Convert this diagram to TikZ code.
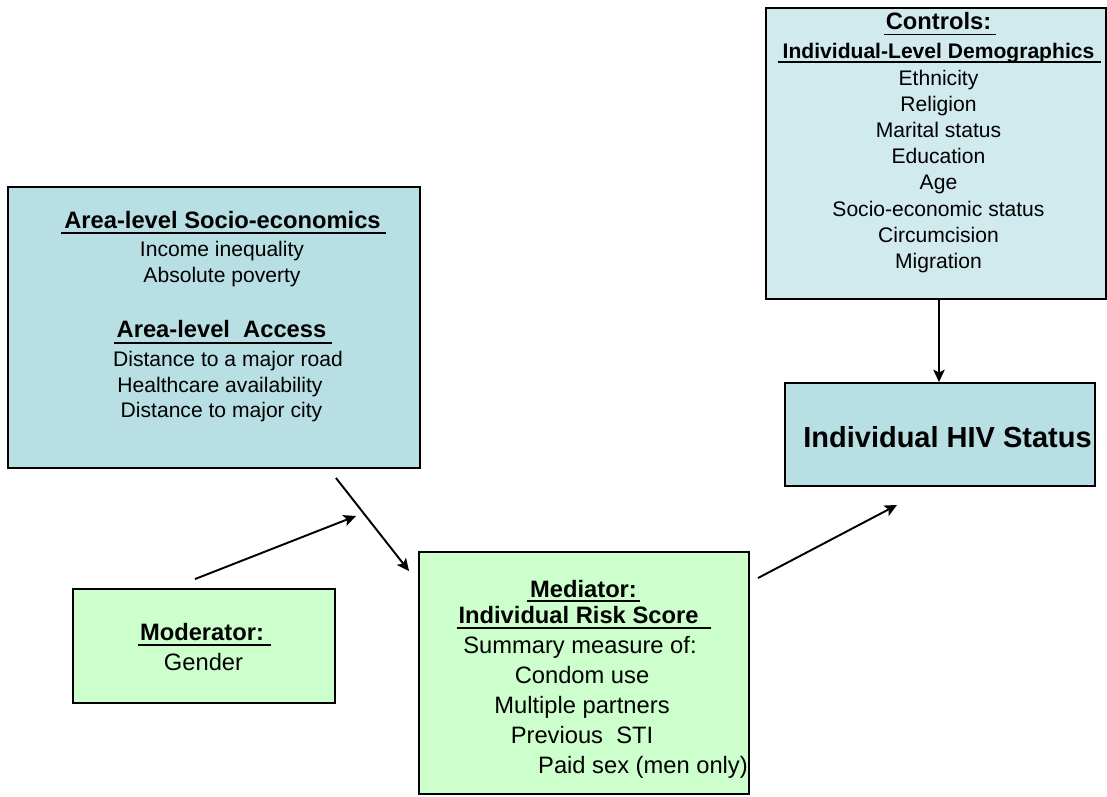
\documentclass[tikz,border=0pt]{standalone}
\usepackage{fontspec}
\setmainfont{Liberation Sans}
\usetikzlibrary{arrows.meta}

\definecolor{areablue}{RGB}{184,223,227}
\definecolor{ctrlblue}{RGB}{209,234,238}
\definecolor{medgreen}{RGB}{204,255,204}

\begin{document}
\begin{tikzpicture}[
  x=0.02cm, y=-0.02cm,
  box/.style={draw=black, line width=1.1pt, inner sep=0pt},
  head/.style={font=\fontsize{13.5}{16}\selectfont\bfseries, anchor=base, inner sep=0pt},
  subhead/.style={font=\fontsize{12}{14}\selectfont\bfseries, anchor=base, inner sep=0pt},
  item/.style={font=\fontsize{12}{14}\selectfont, anchor=base, inner sep=0pt},
  bigitem/.style={font=\fontsize{13.5}{16}\selectfont, anchor=base, inner sep=0pt},
  uline/.style={line width=1.1pt},
  arrow/.style={-{Stealth[length=7pt, width=6.5pt, inset=1.5pt]}, line width=1.1pt},
]
\useasboundingbox (0,0) rectangle (1107,796);

% Boxes
\node[box, fill=ctrlblue, minimum width=6.8cm, minimum height=5.82cm] (ctrl) at (936,153.5) {};
\node[box, fill=areablue, minimum width=8.24cm, minimum height=5.62cm] (area) at (214,327.5) {};
\node[box, fill=areablue, minimum width=6.2cm, minimum height=2.06cm] (hiv) at (940,434.5) {};
\node[box, fill=medgreen, minimum width=5.24cm, minimum height=2.28cm] (mod) at (204,646) {};
\node[box, fill=medgreen, minimum width=6.6cm, minimum height=4.84cm] (med) at (584,673) {};

% Controls
\node[head] (ctrlhead) at (938.5,29.5) {Controls:};
\draw[uline] (884,34.5) -- (996,34.5);
\node[subhead] (ctrlsub) at (938.5,58) {Individual-Level Demographics};
\draw[uline] (778,62) -- (1101,62);
\foreach \lbl [count=\i from 0] in {Ethnicity, Religion, Marital status, Education, Age,
    Socio-economic status, Circumcision, Migration}{
  \node[item] (ctrl\i) at (938.5,{85+26.2*\i}) {\lbl};
}

% Area-level
\node[head] (sochead) at (222.5,228) {Area-level Socio-economics};
\draw[uline] (61,233) -- (386,233);
\node[item] (soc1) at (222,256) {Income inequality};
\node[item] (soc2) at (222,282) {Absolute poverty};
\node[head] (acchead) at (221.5,337) {Area-level\ \ Access};
\draw[uline] (114,343) -- (332,343);
\foreach \x/\y/\lbl in {228/366/Distance to a major road, 220/392/Healthcare availability,
    221.5/417/Distance to major city}{
  \node[item] at (\x,\y) {\lbl};
}

% HIV status
\node[font=\fontsize{16.5}{19}\selectfont\bfseries, anchor=base, inner sep=0pt] (hivtext) at (947.5,447) {Individual HIV Status};

% Moderator
\node[head] (modhead) at (202,640) {Moderator:};
\draw[uline] (138,645) -- (271,645);
\node[bigitem] (modtext) at (203.5,670) {Gender};

% Mediator
\node[head] (medhead) at (583.5,597) {Mediator:};
\draw[uline] (527,601) -- (640,601);
\node[head] (medsub) at (578.5,623) {Individual Risk Score};
\draw[uline] (457,628) -- (711,628);
\foreach \x/\y/\lbl in {580/653/Summary measure of:, 582/683/Condom use,
    582/713/Multiple partners, 582/743/Previous\ \ STI, 643/773/Paid sex (men only)}{
  \node[bigitem] at (\x,\y) {\lbl};
}

% Arrows
\coordinate (join) at (356,516);
\draw[arrow] ([shift={(-85,9)}]area.south east) -- ([shift={(-9,20)}]med.north west);
\draw[arrow] ([shift={(-9,-9)}]mod.north) -- (join);
\draw[arrow] ([shift={(8,27)}]med.north east) -- ([shift={(113,18)}]hiv.south west);
\draw[arrow] ([xshift=0.06cm]ctrl.south) -- ([xshift=-0.02cm]hiv.north);

\end{tikzpicture}
\end{document}
